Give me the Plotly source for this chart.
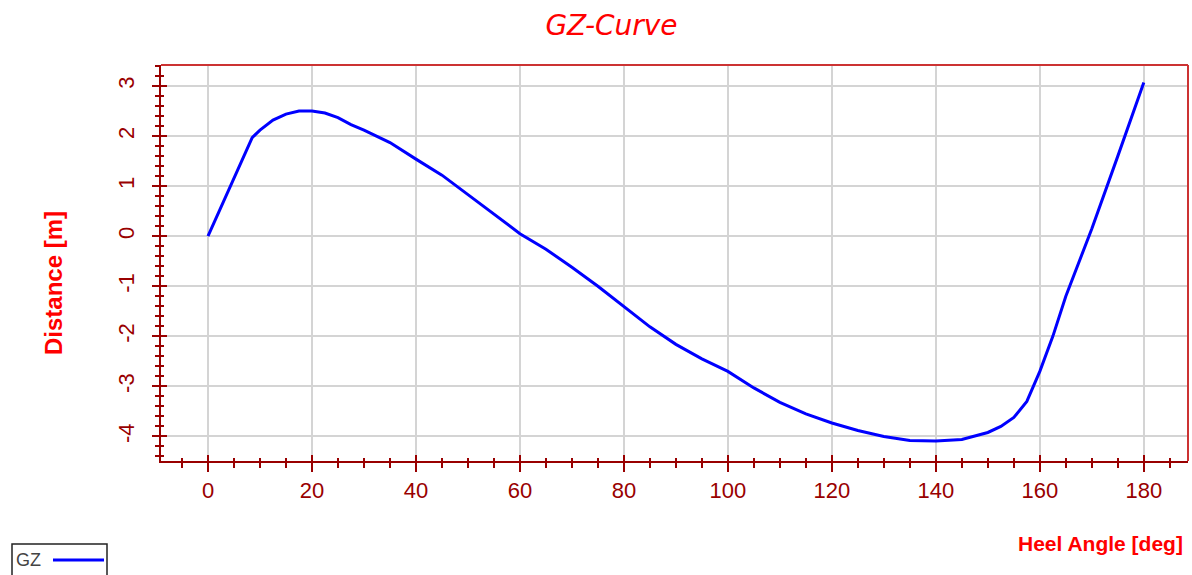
import plotly.graph_objects as go

heel_angle = [0, 8.5, 10, 12.5, 15, 17.5, 20, 22.5, 25, 27.5, 30, 35, 40, 45, 50, 55, 60,
              65, 70, 75, 80, 85, 90, 95, 100, 105, 110, 115, 120, 125, 130, 135, 140,
              145, 150, 152.5, 155, 157.5, 160, 162.5, 165, 170, 175, 180]
gz = [0, 1.97, 2.12, 2.32, 2.44, 2.50, 2.50, 2.46, 2.37, 2.23, 2.12, 1.87, 1.54, 1.22, 0.83,
      0.44, 0.05, -0.26, -0.62, -1.0, -1.40, -1.81, -2.16, -2.45, -2.70, -3.03, -3.32, -3.55,
      -3.73, -3.88, -4.0, -4.08, -4.09, -4.06, -3.92, -3.8, -3.62, -3.3, -2.7, -2.0, -1.2,
      0.15, 1.6, 3.07]

x_ticks = list(range(0, 181, 20))
y_ticks = [-4, -3, -2, -1, 0, 1, 2, 3]
y_labels = ["-4", "-3", "-2", "-1", "0", "1", "2", "3"]

AXIS = "#990000"
FONT = "Liberation Sans"
xr = [-9.04, 188.5]
yr = [-4.49, 3.42]

fig = go.Figure()
fig.add_trace(go.Scatter(x=heel_angle, y=gz, mode="lines", name="GZ",
                         line=dict(color="#0000ff", width=3), showlegend=False))

fig.update_layout(
    width=1192, height=575,
    margin=dict(l=161, r=4, t=65, b=114),
    paper_bgcolor="white", plot_bgcolor="white",
    title=dict(text="GZ-Curve", xref="container", x=0.513, xanchor="center",
               yref="container", y=1 - 25 / 575, yanchor="middle",
               font=dict(family="DejaVu Sans", size=28, color="#ff0000", style="italic")),
    xaxis=dict(range=xr, tickvals=x_ticks, showgrid=True, gridcolor="#d4d4d4", gridwidth=2,
               zeroline=False, showline=True, linecolor=AXIS, linewidth=2,
               ticks="outside", ticklen=9, tickwidth=2, tickcolor=AXIS,
               minor=dict(dtick=5, ticks="outside", ticklen=5, tickwidth=2, tickcolor=AXIS,
                          showgrid=False),
               tickfont=dict(family=FONT, size=22, color=AXIS)),
    yaxis=dict(range=yr, tickvals=y_ticks, ticktext=y_labels, showgrid=True,
               gridcolor="#d4d4d4", gridwidth=2,
               zeroline=False, showline=True, linecolor=AXIS, linewidth=2,
               ticks="outside", ticklen=7, tickwidth=2, tickcolor=AXIS, tickangle=-90,
               ticklabelstandoff=9,
               minor=dict(dtick=0.2, ticks="outside", ticklen=4, tickwidth=2, tickcolor=AXIS,
                          showgrid=False),
               tickfont=dict(family=FONT, size=22, color=AXIS)),
    xaxis2=dict(range=xr, overlaying="x", side="bottom", anchor="y", showgrid=False,
                zeroline=False, showline=False, showticklabels=False, tickvals=x_ticks,
                ticks="inside", ticklen=6, tickwidth=2, tickcolor=AXIS,
                minor=dict(dtick=5, ticks="inside", ticklen=3, tickwidth=2, tickcolor=AXIS)),
    yaxis2=dict(range=yr, overlaying="y", side="left", anchor="x", showgrid=False,
                zeroline=False, showline=False, showticklabels=False, tickvals=y_ticks,
                ticks="inside", ticklen=6, tickwidth=2, tickcolor=AXIS,
                minor=dict(dtick=0.2, ticks="inside", ticklen=3, tickwidth=2, tickcolor=AXIS)),
)

# invisible trace to activate the overlay axes
fig.add_trace(go.Scatter(x=[None], y=[None], xaxis="x2", yaxis="y2", showlegend=False,
                         hoverinfo="skip"))

# top and right frame lines
fig.add_shape(type="line", xref="paper", yref="paper", x0=0, x1=1, y0=1, y1=1,
              line=dict(color="#cc3333", width=2))
fig.add_shape(type="line", xref="paper", yref="paper", x0=1, x1=1, y0=0, y1=1,
              line=dict(color="#cc3333", width=2))

# axis titles
fig.add_annotation(text="<b>Heel Angle [deg]</b>", xref="paper", yref="paper",
                   x=(1185 - 161) / 1027, xanchor="right", y=(461 - 543) / 396, yanchor="middle",
                   showarrow=False, font=dict(family=FONT, size=21, color="#ff0000"))
fig.add_annotation(text="<b>Distance [m]</b>", xref="paper", yref="paper",
                   x=(53 - 161) / 1027, xanchor="center", y=(461 - 283) / 396, yanchor="middle",
                   textangle=-90, showarrow=False,
                   font=dict(family=FONT, size=24, color="#ff0000"))

# legend box (text then line sample)
fig.add_shape(type="rect", xref="paper", yref="paper",
              x0=(12 - 161) / 1027, x1=(107 - 161) / 1027,
              y0=(461 - 585) / 396, y1=(461 - 544) / 396,
              line=dict(color="#222222", width=1.5), fillcolor="white")
fig.add_shape(type="line", xref="paper", yref="paper",
              x0=(53 - 161) / 1027, x1=(104 - 161) / 1027,
              y0=(461 - 560) / 396, y1=(461 - 560) / 396,
              line=dict(color="#0000ff", width=3))
fig.add_annotation(text="GZ", xref="paper", yref="paper",
                   x=(14 - 161) / 1027, xanchor="left", y=(461 - 560) / 396, yanchor="middle",
                   showarrow=False, font=dict(family=FONT, size=18, color="#444444"))

fig.write_html("out.html", config={"displayModeBar": False},
               post_script="document.body.style.margin='0';document.body.style.padding='0';")
